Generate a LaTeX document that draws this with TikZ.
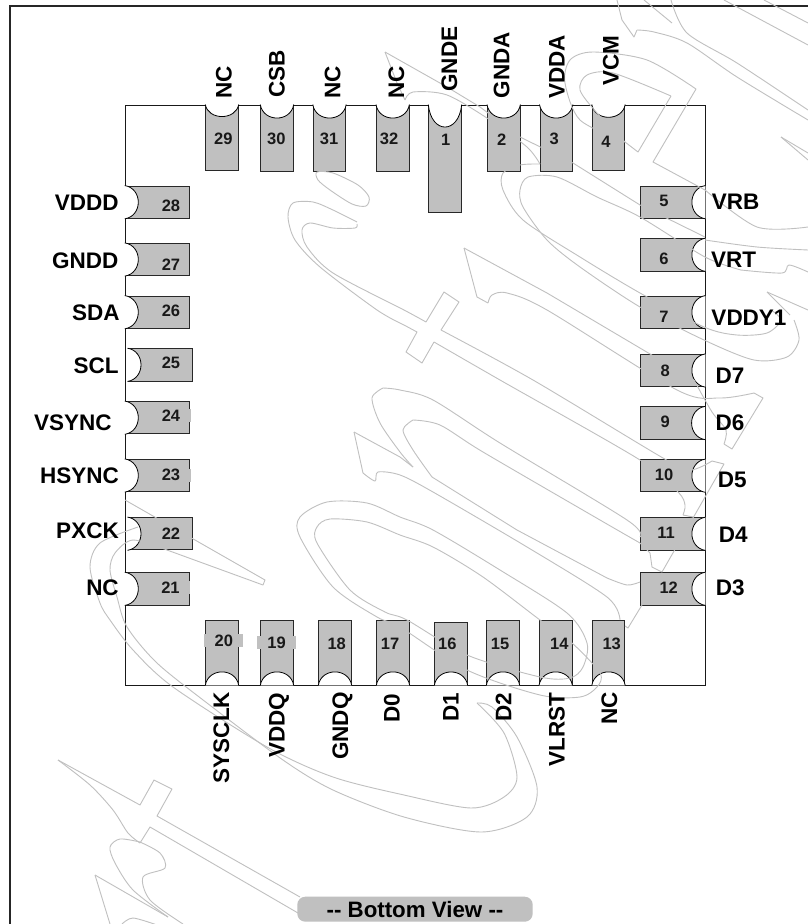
\documentclass[tikz,border=0pt]{standalone}
\usepackage{fontspec}
\setmainfont{Liberation Sans}
\definecolor{pingray}{RGB}{192,192,192}
\definecolor{pinedge}{RGB}{40,40,40}
\tikzset{
  pinbox/.style={draw=pinedge,fill=pingray,line width=0.9pt,inner sep=0pt,minimum width=32.5pt,minimum height=66pt},
  sidebox/.style={draw=pinedge,fill=pingray,line width=0.9pt,inner sep=0pt,minimum width=64.5pt,minimum height=32.4pt},
  notch/.style={draw=black,fill=white,line width=0.8pt},
  pinnum/.style={font=\fontsize{16.5}{16.5}\selectfont\bfseries,inner sep=0pt,text=black!90},
  numpatch/.style={pinnum,fill=pingray,minimum width=39pt,minimum height=13pt},
  pinname/.style={font=\fontsize{22.5}{22.5}\selectfont\bfseries,inner sep=0pt,text height=16pt,text depth=0pt},
  vname/.style={pinname,rotate=90},
  mark line/.style={draw=pingray,line width=0.9pt,line join=round}
}
\begin{document}
\begin{tikzpicture}[x=1pt,y=-1pt]
\useasboundingbox (0,0) rectangle (808,924);
\fill[white] (0,0) rectangle (808,924);
\draw[line width=1.2pt,draw=black!85] (808,6) -- (10,6) -- (10,924);
\coordinate (NW) at (125.3,105);
\coordinate (NE) at (705,105);
\coordinate (SE) at (705,685);
\coordinate (SW) at (125.3,685);
\draw[line width=0.9pt,draw=black!90] (NW) -- (NE) -- (SE) -- (SW) -- cycle;
% top row
\node[pinbox,minimum height=65pt] (P29) at (222,137.5) {};
\node[pinbox] (P30) at (277,138) {};
\node[pinbox] (P31) at (329.5,138) {};
\node[pinbox] (P32) at (392.7,138) {};
\node[pinbox,minimum height=107pt] (P1) at (445,158.5) {};
\node[pinbox] (P2) at (503.7,138) {};
\node[pinbox] (P3) at (556.2,138) {};
\node[pinbox,minimum height=65pt] (P4) at (608.5,137.5) {};
\draw[notch] (P29.north west) .. controls +(3,16) and +(-3,16) .. (P29.north east);
\draw[notch] (P30.north west) .. controls +(3,18) and +(-3,18) .. (P30.north east);
\draw[notch] (P31.north west) .. controls +(3,18) and +(-3,18) .. (P31.north east);
\draw[notch] (P32.north west) .. controls +(3,18) and +(-3,18) .. (P32.north east);
\draw[notch] (P1.north west) .. controls +(3,30) and +(-3,30) .. (P1.north east);
\draw[notch] (P2.north west) .. controls +(3,18) and +(-3,18) .. (P2.north east);
\draw[notch] (P3.north west) .. controls +(3,18) and +(-3,18) .. (P3.north east);
\draw[notch] (P4.north west) .. controls +(3,17) and +(-3,17) .. (P4.north east);
% right column
\node[sidebox] (P5) at (672.7,202.2) {};
\node[sidebox] (P6) at (672.7,254.8) {};
\node[sidebox] (P7) at (672.7,312.2) {};
\node[sidebox] (P8) at (672.7,370.5) {};
\node[sidebox] (P9) at (672.4,423) {};
\node[sidebox] (P10) at (672.7,475.7) {};
\node[sidebox] (P11) at (672.7,533.8) {};
\node[sidebox] (P12) at (672.7,588.8) {};
\draw[notch] (P5.north east) .. controls +(-18,3) and +(-18,-3) .. (P5.south east);
\draw[notch] (P6.north east) .. controls +(-18,3) and +(-18,-3) .. (P6.south east);
\draw[notch] (P7.north east) .. controls +(-18,3) and +(-18,-3) .. (P7.south east);
\draw[notch] (P8.north east) .. controls +(-18,3) and +(-18,-3) .. (P8.south east);
\draw[notch] (P9.north east) .. controls +(-18,3) and +(-18,-3) .. (P9.south east);
\draw[notch] (P10.north east) .. controls +(-18,3) and +(-18,-3) .. (P10.south east);
\draw[notch] (P11.north east) .. controls +(-18,3) and +(-18,-3) .. (P11.south east);
\draw[notch] (P12.north east) .. controls +(-18,3) and +(-18,-3) .. (P12.south east);
% left column
\node[sidebox] (P28) at (157.5,202.2) {};
\node[sidebox] (P27) at (157.5,259.5) {};
\node[sidebox] (P26) at (157.5,312.2) {};
\node[sidebox] (P25) at (160.2,364.8) {};
\node[sidebox] (P24) at (157.5,417.7) {};
\node[sidebox] (P23) at (157.5,475.5) {};
\node[sidebox] (P22) at (160.2,533.7) {};
\node[sidebox] (P21) at (157.5,588.8) {};
\draw[notch] (P28.north west) .. controls +(18,3) and +(18,-3) .. (P28.south west);
\draw[notch] (P27.north west) .. controls +(18,3) and +(18,-3) .. (P27.south west);
\draw[notch] (P26.north west) .. controls +(18,3) and +(18,-3) .. (P26.south west);
\draw[notch] (P25.north west) .. controls +(18,3) and +(18,-3) .. (P25.south west);
\draw[notch] (P24.north west) .. controls +(18,3) and +(18,-3) .. (P24.south west);
\draw[notch] (P23.north west) .. controls +(18,3) and +(18,-3) .. (P23.south west);
\draw[notch] (P22.north west) .. controls +(18,3) and +(18,-3) .. (P22.south west);
\draw[notch] (P21.north west) .. controls +(18,3) and +(18,-3) .. (P21.south west);
% bottom row
\node[pinbox,minimum height=64.3pt] (P20) at (222,652.8) {};
\node[pinbox,minimum height=64.3pt] (P19) at (277,652.8) {};
\node[pinbox,minimum height=64.3pt] (P18) at (335,652.8) {};
\node[pinbox,minimum height=64.3pt] (P17) at (393,652.8) {};
\node[pinbox,minimum height=63pt] (P16) at (451,653.5) {};
\node[pinbox,minimum height=64.3pt] (P15) at (503,652.8) {};
\node[pinbox,minimum height=64.3pt] (P14) at (555.7,652.8) {};
\node[pinbox,minimum height=64.3pt] (P13) at (608.5,652.8) {};
\draw[notch] (P20.south west) .. controls +(3,-18) and +(-3,-18) .. (P20.south east);
\draw[notch] (P19.south west) .. controls +(3,-18) and +(-3,-18) .. (P19.south east);
\draw[notch] (P18.south west) .. controls +(3,-18) and +(-3,-18) .. (P18.south east);
\draw[notch] (P17.south west) .. controls +(3,-18) and +(-3,-18) .. (P17.south east);
\draw[notch] (P16.south west) .. controls +(3,-18) and +(-3,-18) .. (P16.south east);
\draw[notch] (P15.south west) .. controls +(3,-18) and +(-3,-18) .. (P15.south east);
\draw[notch] (P14.south west) .. controls +(3,-18) and +(-3,-18) .. (P14.south east);
\draw[notch] (P13.south west) .. controls +(3,-18) and +(-3,-18) .. (P13.south east);
% watermark
\draw[mark line] plot[smooth cycle] coordinates {(317,172) (333,173) (358,185) (369,197) (366,206) (352,204) (330,190) (318,180)};
\draw[mark line] plot[smooth] coordinates {(357,222) (333,210) (313,202) (293,203) (288,217) (295,240) (320,267) (377,310) (404,325)};
\draw[mark line] plot[smooth] coordinates {(357,224) (355,228) (333,228) (310,223) (302,230) (307,247) (333,273) (404,310) (426,322)};
\draw[mark line] (426,322) -- (444,292) -- (459,302) -- (441,330);
\draw[mark line] (404,325) -- (417,332) -- (406,352) -- (422,363) -- (434,342);
\draw[mark line] plot[smooth] coordinates {(441,330) (533,380) (663,458) (690,470) (712,461)};
\draw[mark line] (712,461) -- (724,464) -- (662,572) -- (652,567) -- (650,553) -- (640,543);
\draw[mark line] plot[smooth] coordinates {(434,342) (500,380) (640,460) (678,492) (685,505) (683,515)};
\draw[mark line] (683,515) -- (693,517);
\draw[mark line] plot[smooth] coordinates {(383,388) (400,390) (433,400) (500,443) (627,520) (640,537)};
\draw[mark line] plot[smooth] coordinates {(383,388) (372,398) (380,423) (400,452) (413,467)};
\draw[mark line] plot[smooth] coordinates {(413,420) (403,430) (413,450) (432,477)};
\draw[mark line] (432,477) -- (517,530) -- (607,578);
\draw[mark line] plot[smooth] coordinates {(607,578) (627,585) (640,582)};
\draw[mark line] plot[smooth] coordinates {(413,420) (440,425) (483,452) (600,520) (640,543)};
\draw[mark line] (354,432) -- (400,457) -- (413,467);
\draw[mark line] (354,432) -- (363,473);
\draw[mark line] plot[smooth] coordinates {(363,473) (375,481) (378,472) (400,475) (433,492) (527,547) (607,597) (620,620)};
\draw[mark line] (625,626) -- (628,628) -- (642,605);
% big loop in the middle
\draw[mark line] plot[smooth cycle] coordinates {(400,517) (367,503) (327,502) (300,517) (300,537) (333,587) (377,617) (400,627) (467,670) (540,695) (580,697) (597,687) (600,673) (572,643) (540,620) (483,577) (433,547) (400,535) (367,522) (330,519) (317,527) (317,543) (350,590) (385,612) (407,620) (467,655) (540,677) (570,678) (583,667) (587,643) (567,613) (500,570) (433,530)};
\draw[mark line] (125,500) -- (265,580) -- (263,585) -- (167,550);
\draw[mark line] plot[smooth] coordinates {(138,527) (100,543) (90,567) (100,603) (110,620) (133,650) (173,687) (267,747) (333,777) (404,795) (471,808) (504,797) (517,777) (504,733) (477,703)};
\draw[mark line] plot[smooth] coordinates {(167,550) (133,540) (115,553) (110,570) (117,597) (127,627) (157,663) (207,703) (283,760) (333,790) (404,817) (481,832) (527,817) (537,787) (517,737) (492,707) (477,703)};
\draw[mark line] (58,760) -- (140,805) -- (154,780) -- (172,789) -- (157,816) -- (300,897);
\draw[mark line] plot[smooth] coordinates {(58,760) (90,785) (113,810) (128,833) (140,843)};
\draw[mark line] (140,843) -- (150,827) -- (298,913);
\draw[mark line] plot[smooth] coordinates {(140,842) (120,839) (110,847) (115,863) (133,890) (168,917)};
\draw[mark line] (95,875) -- (168,917);
\draw[mark line] (95,875) -- (110,924);
\draw[mark line] plot[smooth] coordinates {(140,842) (160,853) (165,868) (143,877) (150,900) (183,924)};
\draw[mark line] plot[smooth] coordinates {(122,924) (133,918) (157,925)};
% upper sword and scroll
\draw[mark line] (385,52) -- (447,87) -- (480,107) -- (520,137) -- (573,163) -- (640,205) -- (705,237);
\draw[mark line] plot[smooth] coordinates {(705,240) (757,247) (808,250)};
\draw[mark line] (385,52) -- (397,83) -- (405,100);
\draw[mark line] plot[smooth] coordinates {(405,100) (413,92) (447,95) (490,120) (527,147) (540,164)};
\draw[mark line] plot[smooth] coordinates {(540,164) (520,165) (503,173) (503,190) (523,220) (580,257) (640,293) (704,327) (737,335) (767,333) (781,320) (771,310)};
\draw[mark line] plot[smooth] coordinates {(741,270) (705,257) (640,217) (597,197) (557,177) (528,177) (520,190) (523,207) (547,240) (580,267) (640,307) (704,340) (754,360) (787,357) (799,340) (794,320)};
\draw[mark line] plot[smooth] coordinates {(741,270) (782,273) (789,265) (808,272)};
\draw[mark line] (767,292) -- (790,315);
\draw[mark line] (767,292) -- (808,310);
\draw[mark line] (464,248) -- (547,293) -- (694,380);
\draw[mark line] plot[smooth] coordinates {(694,380) (712,412) (726,430) (724,444)};
\draw[mark line] (464,248) -- (477,297) -- (488,303);
\draw[mark line] plot[smooth] coordinates {(488,303) (492,295) (507,293) (547,310) (677,390) (720,398) (754,393)};
\draw[mark line] (754,393) -- (763,398) -- (732,449) -- (724,444);
\draw[mark line] (617,0) -- (622,20) -- (634,37) -- (637,30);
\draw[mark line] plot[smooth] coordinates {(637,30) (654,32) (687,43) (737,77) (808,120)};
\draw[mark line] (644,0) -- (672,23);
\draw[mark line] plot[smooth] coordinates {(671,0) (687,33) (737,63) (808,110)};
\draw[mark line] (724,0) -- (808,45);
\draw[mark line] (764,0) -- (808,23);
\draw[mark line] (696,89) -- (653,162) -- (705,190);
\draw[mark line] plot[smooth] coordinates {(705,190) (757,227) (808,227)};
\draw[mark line] (671,96) -- (638,152) -- (625,142);
\draw[mark line] plot[smooth] coordinates {(696,89) (647,60) (593,52) (570,60) (565,83) (580,120) (625,142)};
\draw[mark line] plot[smooth] coordinates {(671,96) (613,73) (587,75) (580,90) (597,113) (625,142)};
\draw[mark line] (781,137) -- (808,153);
\draw[mark line] (781,137) -- (808,160);
% numbers
\node[pinnum] (N29) at (223.3,139.3) {29};
\node[pinnum] (N30) at (276.3,139.3) {30};
\node[pinnum] (N31) at (329,139.3) {31};
\node[pinnum] (N32) at (389,139.3) {32};
\node[pinnum] (N1) at (445.7,139.5) {1};
\node[pinnum] (N2) at (501.7,139.5) {2};
\node[pinnum] (N3) at (554.3,139) {3};
\node[pinnum] (N4) at (606,142.3) {4};
\node[pinnum] (N5) at (664,201.3) {5};
\node[pinnum] (N6) at (664,259) {6};
\node[pinnum] (N7) at (664,317.3) {7};
\node[pinnum] (N8) at (665.3,371.3) {8};
\node[pinnum] (N9) at (665.3,422.3) {9};
\node[pinnum] (N10) at (664,475) {10};
\node[pinnum] (N11) at (666,533.3) {11};
\node[pinnum] (N12) at (668.7,587.3) {12};
\node[pinnum] (N28) at (171,205.7) {28};
\node[pinnum] (N27) at (171,264.3) {27};
\node[pinnum] (N26) at (171,311) {26};
\node[pinnum] (N25) at (171,363.3) {25};
\node[numpatch] (N24) at (171,415.3) {24};
\node[numpatch] (N23) at (171,475) {23};
\node[pinnum] (N22) at (171,534) {22};
\node[numpatch] (N21) at (170.5,587.3) {21};
\node[numpatch] (N20) at (223.8,640.5) {20};
\node[numpatch] (N19) at (276.5,642.7) {19};
\node[pinnum] (N18) at (336.7,644) {18};
\node[pinnum] (N17) at (390,644) {17};
\node[pinnum] (N16) at (447.3,644) {16};
\node[pinnum] (N15) at (500,644) {15};
\node[pinnum] (N14) at (559.3,644) {14};
\node[pinnum] (N13) at (611.7,644) {13};
% pin names
\node[vname] (L29) at (223.5,82.5) {NC};
\node[vname] (L30) at (276.7,74) {CSB};
\node[vname] (L31) at (332.3,82.5) {NC};
\node[vname] (L32) at (396,82.5) {NC};
\node[vname] (L1) at (449,59) {GNDE};
\node[vname] (L2) at (501.3,65) {GNDA};
\node[vname] (L3) at (556.7,66.7) {VDDA};
\node[vname] (L4) at (610.7,60.5) {VCM};
\node[pinname] (L5) at (735.7,201.7) {VRB};
\node[pinname] (L6) at (733.5,259.3) {VRT};
\node[pinname] (L7) at (749,317.3) {VDDY1};
\node[pinname] (L8) at (730,375) {D7};
\node[pinname] (L9) at (730,422.3) {D6};
\node[pinname] (L10) at (732.3,479) {D5};
\node[pinname] (L11) at (733.3,534) {D4};
\node[pinname] (L12) at (730.3,587.7) {D3};
\node[pinname] (L28) at (86.7,202.7) {VDDD};
\node[pinname] (L27) at (85.3,260.7) {GNDD};
\node[pinname] (L26) at (95.8,312.7) {SDA};
\node[pinname] (L25) at (96,365) {SCL};
\node[pinname] (L24) at (72.8,422.3) {VSYNC};
\node[pinname] (L23) at (79.5,475) {HSYNC};
\node[pinname] (L22) at (87.5,530.7) {PXCK};
\node[pinname] (L21) at (102.5,587.7) {NC};
\node[vname] (L20) at (221,737.5) {SYSCLK};
\node[vname] (L19) at (276.7,725) {VDDQ};
\node[vname] (L18) at (340,726) {GNDQ};
\node[vname] (L17) at (391.7,708.3) {D0};
\node[vname] (L16) at (450.7,707.2) {D1};
\node[vname] (L15) at (503.3,707.2) {D2};
\node[vname] (L14) at (556.7,729.5) {VLRST};
\node[vname] (L13) at (609,708.7) {NC};
% caption
\node[fill=pingray,rounded corners=8pt,minimum width=235.4pt,minimum height=25pt,inner sep=0pt,font=\fontsize{22.3}{22.3}\selectfont\bfseries] (view) at (415,909.2) {{-}{-} Bottom View {-}{-}};
\end{tikzpicture}
\end{document}
